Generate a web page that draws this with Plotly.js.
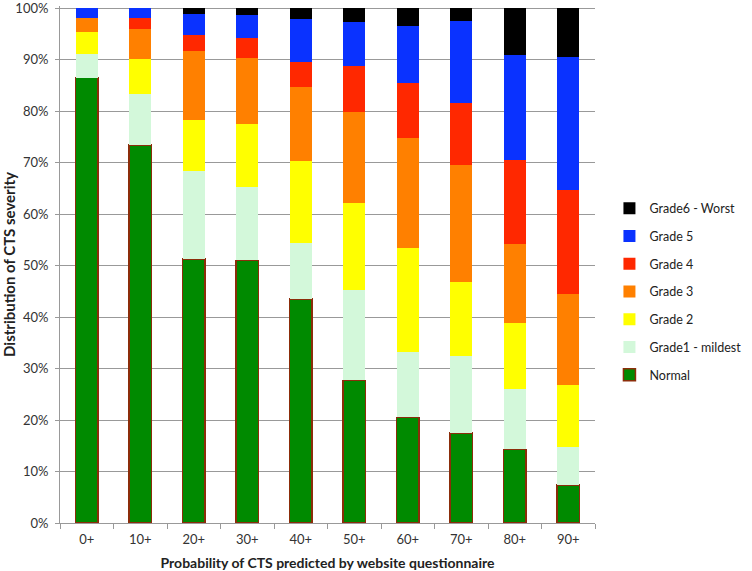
<!DOCTYPE html>
<html>
<head>
<meta charset="utf-8">
<script src="https://cdn.plot.ly/plotly-3.0.1.min.js"></script>
<style>html,body{margin:0;padding:0;background:#fff;}#chart{width:752px;height:571px;}</style>
</head>
<body>
<div id="chart"></div>
<script>
const categories = ["0+","10+","20+","30+","40+","50+","60+","70+","80+","90+"];
const normal   = [86.5, 73.4, 51.3, 51.0, 43.5, 27.7, 20.5, 17.5, 14.3, 7.4];
const grade1   = [4.5, 10.0, 17.15, 14.2, 10.8, 17.5, 12.7, 15.0, 11.8, 7.4];
const grade2   = [4.4, 6.7, 9.85, 12.3, 16.0, 16.9, 20.3, 14.3, 12.7, 12.0];
const grade3   = [2.7, 5.8, 13.4, 12.8, 14.4, 17.8, 21.3, 22.7, 15.3, 17.6];
const grade4   = [0.0, 2.2, 3.1, 3.8, 4.8, 8.8, 10.7, 12.1, 16.4, 20.2];
const grade5   = [1.9, 1.9, 4.1, 4.5, 8.4, 8.6, 11.1, 15.9, 20.3, 25.9];
const grade6   = [0.0, 0.0, 1.1, 1.4, 2.1, 2.7, 3.4, 2.5, 9.2, 9.5];
const seriesNames = ["Normal","Grade1 - mildest","Grade 2","Grade 3","Grade 4","Grade 5","Grade6 - Worst"];
const yTickVals = [0, 0.1, 0.2, 0.3, 0.4, 0.5, 0.6, 0.7, 0.8, 0.9, 1.0];
const yTickText = ["0%","10%","20%","30%","40%","50%","60%","70%","80%","90%","100%"];

const seriesData = [normal, grade1, grade2, grade3, grade4, grade5, grade6];
const colors = ["#008a00","#d3f8da","#ffff00","#ff8000","#ff2800","#0a32ff","#000000"];
const traces = seriesData.map((vals, i) => ({
  type: "bar",
  x: categories,
  y: vals.map(v => v / 100),
  name: seriesNames[i],
  legendgroup: "g" + i,
  legendrank: 100 - i,
  marker: {
    color: colors[i],
    line: i === 0 ? {color: "#8b2d0a", width: 1.5} : {width: 0}
  },
  hoverinfo: "x+y+name"
}));

const layout = {
  width: 752, height: 571,
  margin: {l: 60, r: 119, t: 6, b: 48},
  paper_bgcolor: "#fff", plot_bgcolor: "#fff",
  barmode: "stack",
  bargap: 0.58,
  font: {family: "Lato, 'Open Sans', sans-serif", size: 13, color: "#333"},
  xaxis: {
    showline: true, linecolor: "#999", linewidth: 1,
    ticks: "outside", tickson: "boundaries", ticklen: 5, tickcolor: "#999",
    ticklabelstandoff: 4,
    tickfont: {size: 13, color: "#333"},
    title: {text: "<b>Probability of CTS predicted by website questionnaire</b>", font: {size: 14, color: "#222"}, standoff: 12}
  },
  yaxis: {
    range: [0, 1.004], tickmode: "array", tickvals: yTickVals, ticktext: yTickText,
    showline: true, linecolor: "#999", linewidth: 1,
    showgrid: true, gridcolor: "#999", gridwidth: 1,
    ticks: "outside", ticklen: 4, tickcolor: "#999",
    ticklabelstandoff: 4, ticklabeloverflow: "allow",
    tickfont: {size: 13, color: "#333"},
    zeroline: false,
    title: {text: "<b>Distribution of CTS severity</b>", font: {size: 15, color: "#222"}, standoff: 6}
  },
  legend: {
    x: 1.027, xanchor: "left", y: 0.637, yanchor: "top",
    traceorder: "grouped", tracegroupgap: 8.5,
    font: {size: 12.5, color: "#222"},
    itemwidth: 30
  }
};

Plotly.newPlot("chart", traces, layout, {displayModeBar: false});
</script>
</body>
</html>
